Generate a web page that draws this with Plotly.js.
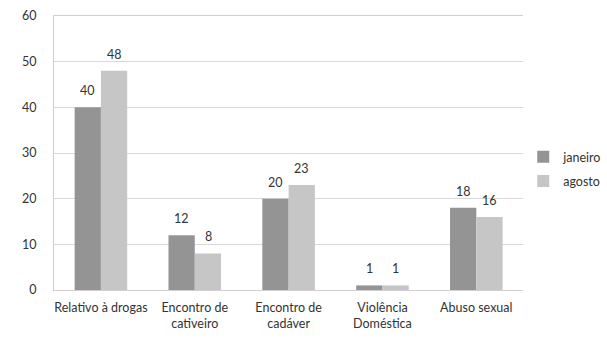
<!DOCTYPE html>
<html><head><meta charset="utf-8">
<script src="https://cdn.plot.ly/plotly-3.0.1.min.js"></script>
<style>body{margin:0;background:#fff}#c{width:607px;height:345px}</style>
</head><body><div id="c"></div>
<script>
const categories = ["Relativo à drogas","Encontro de<br>cativeiro","Encontro de<br>cadáver","Violência<br>Doméstica","Abuso sexual"];
const janeiro = [40,12,20,1,18];
const agosto = [48,8,23,1,16];
const yTicks = [0,10,20,30,40,50,60];
const font = {family:"Lato, 'Open Sans', sans-serif", size:12.5, color:"#333"};
const W = 607, H = 345, M = {l:54, r:80, t:16, b:55}, GAP = 0.44;
const data = [
  {type:"bar", name:"janeiro", legendgroup:"a", x:categories, y:janeiro, marker:{color:"#949494"}},
  {type:"bar", name:"agosto", legendgroup:"b", x:categories, y:agosto, marker:{color:"#c6c6c6"}}
];
// value labels placed at each bar's data value, shifted by half a bar width
const catW = (W - M.l - M.r) / categories.length;
const barW = catW * (1 - GAP) / 2;
const annotations = [];
[janeiro, agosto].forEach((series, si) => {
  series.forEach((v, i) => {
    annotations.push({x: categories[i], y: v, xref:"x", yref:"y", text: String(v), showarrow:false,
      xshift: (si === 0 ? -1 : 1) * barW / 2, yanchor:"bottom", yshift: 7, font: font});
  });
});
const layout = {
  width:W, height:H, margin:M,
  paper_bgcolor:"#fff", plot_bgcolor:"#fff", font:font,
  bargap:GAP, bargroupgap:0,
  showlegend:true, annotations: annotations,
  legend:{xref:"container", yref:"container", x:0.862, y:0.51, yanchor:"middle", xanchor:"left", font:font, itemwidth:30, tracegroupgap:5},
  xaxis:{showline:true, linecolor:"#d0d0d0", mirror:true, ticks:"", tickfont:font, automargin:false, ticklabelstandoff:6},
  yaxis:{range:[0,60], tickvals:yTicks, showgrid:true, gridcolor:"#d9d9d9", showline:true, linecolor:"#d0d0d0", ticks:"", tickfont:font, zeroline:false, automargin:false, ticklabelstandoff:14}
};
Plotly.newPlot("c", data, layout, {displayModeBar:false, staticPlot:true});
</script></body></html>
